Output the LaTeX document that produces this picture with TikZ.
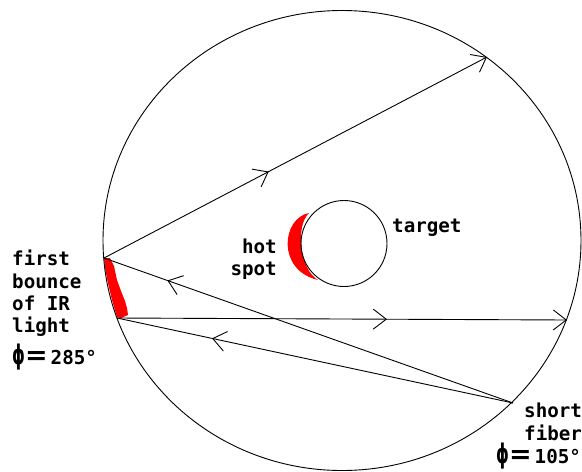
\documentclass[tikz,border=0pt]{standalone}
\usepackage{fontspec}
\setmonofont{DejaVu Sans Mono}
\newfontfamily\phifont{DejaVu Sans}
\usetikzlibrary{arrows.meta,decorations.markings}
\definecolor{ink}{HTML}{000000}
\definecolor{spotred}{HTML}{FF0000}
\newcommand\phieq{{\phifont\bfseries\fontsize{27}{27}\selectfont\scalebox{0.6}[1]{ϕ}=}\hspace{3pt}}

\tikzset{
  ray/.style={draw=ink,line width=0.9pt},
  midarrow/.style={postaction={decorate},
    decoration={markings,mark=at position #1 with {\arrow{>}}}},
  lab/.style={font=\ttfamily\bfseries\fontsize{19.2}{22.5}\selectfont,inner sep=0pt,text=ink},
}

\begin{document}
\begin{tikzpicture}[x=1pt,y=-1pt,>={Straight Barb[length=13pt,width=20pt]}]
  \useasboundingbox (0,0) rectangle (582,472);
  \coordinate (c) at (342,240.5);
  \coordinate (t) at (344,243.5);
  % heated patches
  \fill[spotred] (104,258) -- (110,258) -- (114,266) -- (117,280) -- (121,291) -- (125,301)
    -- (127,308) -- (128,315) -- (121,318) -- (117,317) -- (112,300) -- (108,283) -- (105,268) -- cycle;
  \fill[spotred] (309,213) .. controls (282,218) and (276,270) .. (318,280)
    .. controls (300,270) and (295,226) .. (309,213);
  % chamber wall and target
  \draw[ray] (c) ellipse [x radius=239, y radius=230];
  \draw[ray] (t) circle [radius=43];

  \coordinate (b1) at (104,258);
  \coordinate (b2) at (117,318);
  \coordinate (fib) at (513,403);
  \coordinate (hit) at (487,57);
  \coordinate (rgt) at (567,320);
  \draw[ray,->,midarrow=0.43] (b1) -- (hit);
  \draw[ray,midarrow=0.845] (fib) -- (b1);
  \draw[ray,->,midarrow=0.6] (b2) -- (rgt);
  \draw[ray,midarrow=0.76] (fib) -- (b2);

  \node[lab,anchor=base west] (target) at (392,232) {target};
  \node[lab,anchor=base east] (hot) at (277,253) {hot};
  \node[lab,anchor=base east] (spot) at (277,275) {spot};
  \foreach \t/\y [count=\i] in {first/265,bounce/288,of IR/310,light/332}
    \node[lab,anchor=base west] (note\i) at (12,\y) {\t};
  \node[lab,anchor=base west] (phiL) at (12,364) {\phieq 285°};
  \node[lab,anchor=base west] (short) at (524,417) {short};
  \node[lab,anchor=base west] (fiber) at (524,440) {fiber};
  \node[lab,anchor=base west] (phiR) at (496,463) {\phieq 105°};
\end{tikzpicture}
\end{document}
